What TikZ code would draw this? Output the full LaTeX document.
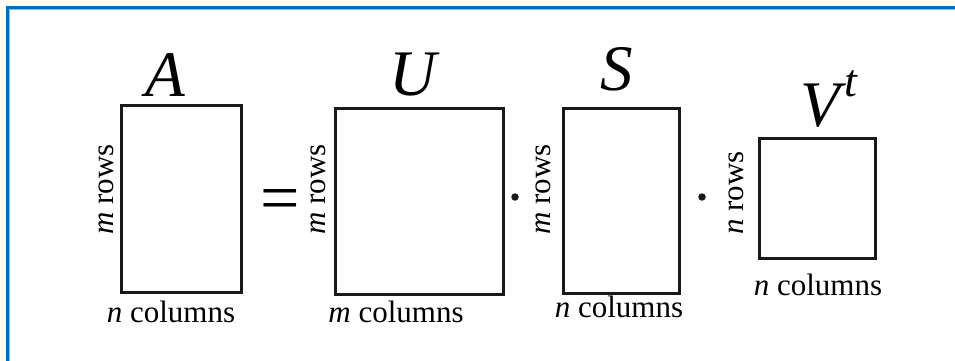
\documentclass[tikz,border=0pt]{standalone}
\usepackage{fontspec}
\setmainfont{Liberation Serif}
\definecolor{framedark}{RGB}{0,112,192}
\definecolor{framelight}{RGB}{130,190,235}
\tikzset{
  matbox/.style={draw=black!90, line width=3pt, inner sep=0pt},
  lbl/.style={inner sep=0pt, anchor=base, font=\fontsize{31}{36}\selectfont},
  rowlbl/.style={inner sep=0pt, anchor=base west, rotate=90, font=\fontsize{31}{36}\selectfont},
  ttl/.style={inner sep=0pt, anchor=base, font=\fontsize{65}{70}\selectfont\itshape},
  dotmul/.style={circle, fill=black!90, inner sep=0pt, minimum size=7.5pt}
}
\begin{document}
\begin{tikzpicture}[x=1pt,y=-1pt]
\useasboundingbox (0,0) rectangle (955,361);
% frame (top and left only visible)
\draw[framedark, line width=2.6pt] (7.5,361) -- (7.5,7.5) -- (955,7.5);
\draw[framelight, line width=0.8pt] (9.6,361) -- (9.6,9.6) -- (955,9.6);

% matrices
\node[matbox, minimum width=120pt, minimum height=187pt] (A) at (181,198.5) {};
\node[matbox, minimum width=168pt, minimum height=186pt] (U) at (419,201) {};
\node[matbox, minimum width=116pt, minimum height=185pt] (S) at (621,200.5) {};
\node[matbox, minimum width=116pt, minimum height=120pt] (V) at (817,198) {};

% titles
\node[ttl] (tA) at (165,96) {A};
\node[ttl] (tU) at (413,95) {U};
\node[ttl] (tS) at (617,90) {S};
\node[ttl] (tV) at (829,126) {V\kern5pt\raisebox{30pt}{\fontsize{46}{50}\selectfont t}};

% row labels
\node[rowlbl] (rA) at (113,235) {\textit{m} rows};
\node[rowlbl] (rU) at (325,235) {\textit{m} rows};
\node[rowlbl] (rS) at (550,235) {\textit{m} rows};
\node[rowlbl] (rV) at (743,235) {\textit{n} rows};

% column labels
\node[lbl] (cA) at (171,322) {\textit{n} columns};
\node[lbl] (cU) at (396,322) {\textit{m} columns};
\node[lbl] (cS) at (619,317) {\textit{n} columns};
\node[lbl] (cV) at (818,295) {\textit{n} columns};

% operators
\node[inner sep=0pt, anchor=base, font=\fontsize{70}{74}\selectfont] (eq) at (280,221) {=};
\node[dotmul] (d1) at (515,197) {};
\node[dotmul] (d2) at (702,197) {};
\end{tikzpicture}
\end{document}
